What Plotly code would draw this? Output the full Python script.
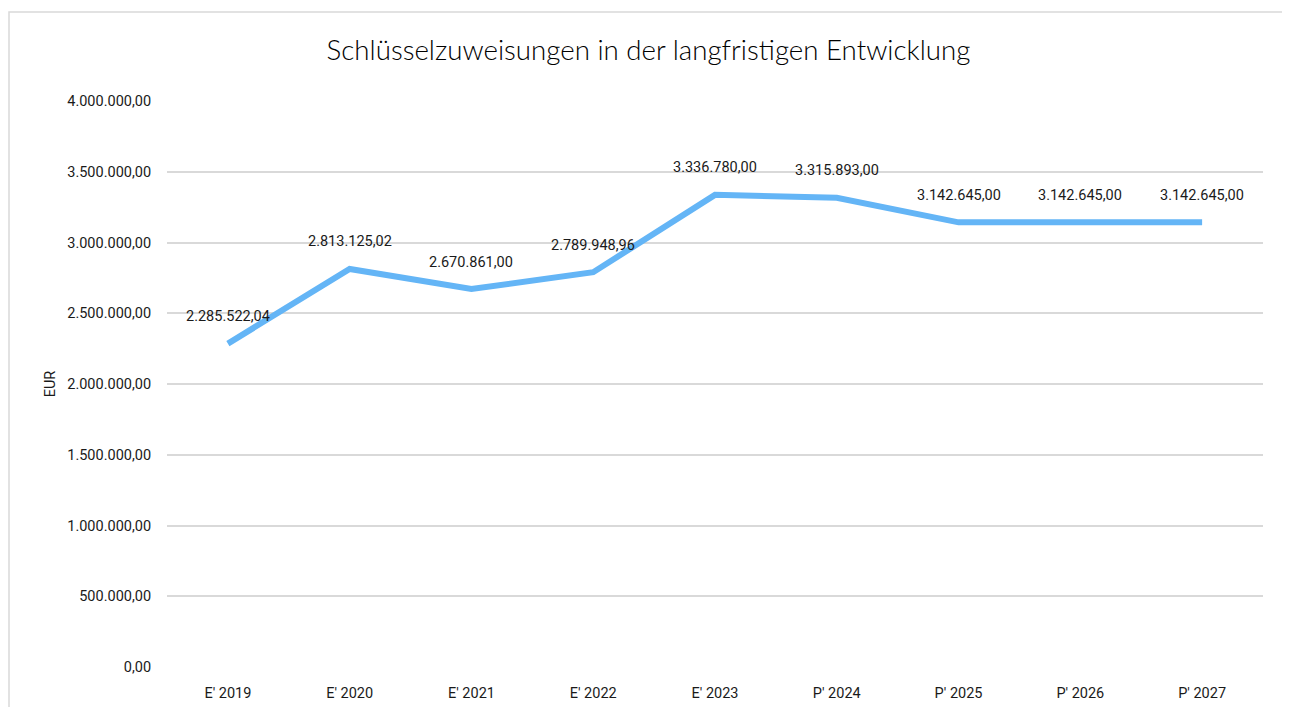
import plotly.graph_objects as go

categories = ["E' 2019", "E' 2020", "E' 2021", "E' 2022", "E' 2023", "P' 2024", "P' 2025", "P' 2026", "P' 2027"]
values = [2285522.04, 2813125.02, 2670861.00, 2789948.96, 3336780.00, 3315893.00, 3142645.00, 3142645.00, 3142645.00]
labels = ["2.285.522,04", "2.813.125,02", "2.670.861,00", "2.789.948,96", "3.336.780,00",
          "3.315.893,00", "3.142.645,00", "3.142.645,00", "3.142.645,00"]
tick_vals = [0, 500000, 1000000, 1500000, 2000000, 2500000, 3000000, 3500000, 4000000]
tick_text = ["0,00", "500.000,00", "1.000.000,00", "1.500.000,00", "2.000.000,00",
             "2.500.000,00", "3.000.000,00", "3.500.000,00", "4.000.000,00"]

FONT = "Roboto"
FS = 14.5
TXT = "#1a1a1a"

fig = go.Figure()
fig.add_trace(go.Scatter(
    x=list(range(len(categories))), y=values, mode="lines",
    line=dict(color="#64B5F6", width=6),
    hoverinfo="skip", showlegend=False,
))

for i, (v, t) in enumerate(zip(values, labels)):
    fig.add_annotation(x=i, y=v, text=t, showarrow=False, yshift=27,
                       font=dict(family=FONT, size=FS, color=TXT))

fig.update_layout(
    width=1290, height=707,
    margin=dict(l=159, r=35, t=93, b=48),
    paper_bgcolor="white", plot_bgcolor="white",
    title=dict(text="Schlüsselzuweisungen in der langfristigen Entwicklung",
               x=640.5 / 1290, xref="container", xanchor="center",
               y=1 - 42 / 707, yref="container", yanchor="middle",
               font=dict(family="Lato", size=27.7, color="#000000", weight=300)),
    xaxis=dict(
        tickmode="array", tickvals=list(range(len(categories))), ticktext=categories,
        range=[-0.5, len(categories) - 0.5], showgrid=False, zeroline=False,
        showline=False, ticks="outside", ticklen=13, tickcolor="rgba(0,0,0,0)",
        tickfont=dict(family=FONT, size=FS, color=TXT),
    ),
    yaxis=dict(
        tickmode="array", tickvals=tick_vals, ticktext=tick_text,
        range=[0, 4000000], showgrid=True, gridcolor="#d9d9d9", gridwidth=1.5,
        zeroline=False, showline=False, ticks="outside", ticklen=12, tickcolor="rgba(0,0,0,0)",
        tickfont=dict(family=FONT, size=FS, color=TXT),
        title=dict(text="EUR", font=dict(family=FONT, size=FS, color=TXT), standoff=8),
    ),
)

# outer chart border (light gray), as in the reference
fig.add_shape(type="rect", xref="paper", yref="paper",
              x0=(9 - 167) / 1096, x1=(1289 - 167) / 1096,
              y0=(667 - 740) / 566, y1=(667 - 12) / 566,
              line=dict(color="#d9d9d9", width=1.5), fillcolor="rgba(0,0,0,0)", layer="below")

fig.write_html("out.html")
